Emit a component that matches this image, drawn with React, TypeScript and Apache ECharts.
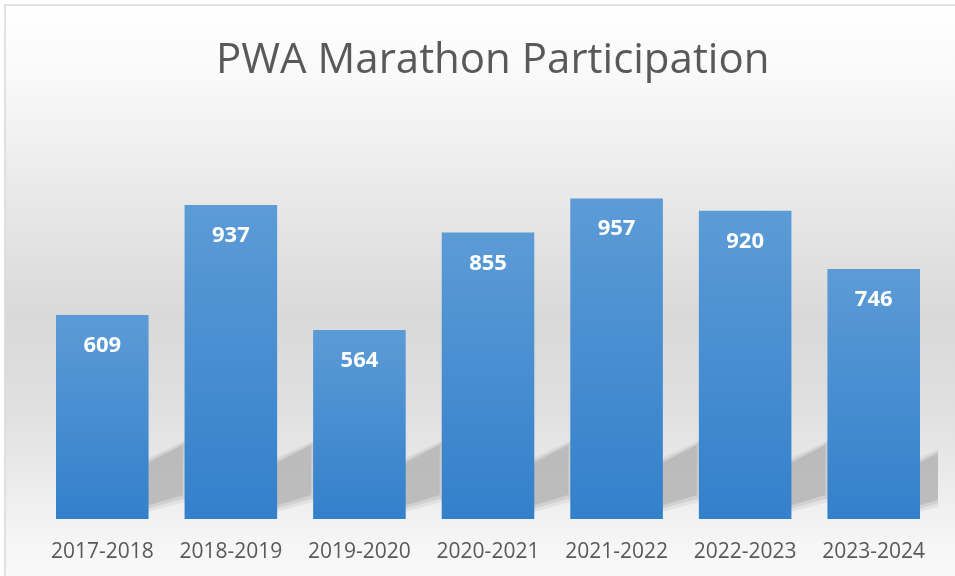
import React, { useEffect, useRef } from "react";
import * as echarts from "echarts";

const categories = ["2017-2018", "2018-2019", "2019-2020", "2020-2021", "2021-2022", "2022-2023", "2023-2024"];
const participants = [609, 937, 564, 855, 957, 920, 746];
const chartTitle = "PWA Marathon Participation";

export default function App() {
  const ref = useRef<HTMLDivElement>(null);
  useEffect(() => {
    if (!ref.current) return;
    const chart = echarts.init(ref.current, null, { renderer: "svg" });
    const font = "'Open Sans', 'Noto Sans', sans-serif";
    const shadowLayers = [
      { grow: 6, alpha: 0.2 },
      { grow: 3, alpha: 0.32 },
      { grow: 0, alpha: 0.6 },
    ];
    chart.setOption({
      animation: false,
      graphic: [
        {
          type: "rect",
          z: -10,
          silent: true,
          shape: { x: 5, y: 5, width: 980, height: 600 },
          style: {
            fill: new echarts.graphic.LinearGradient(0, 0, 0, 1, [
              { offset: 0, color: "#ffffff" },
              { offset: 0.12, color: "#f9f9f9" },
              { offset: 0.3, color: "#eaeaea" },
              { offset: 0.52, color: "#d9d9d9" },
              { offset: 0.68, color: "#e0e0e0" },
              { offset: 0.8, color: "#ececec" },
              { offset: 0.9, color: "#f6f6f6" },
              { offset: 1, color: "#fbfbfb" },
            ]),
            stroke: "#d9d9d9",
            lineWidth: 1.5,
          },
        },
      ],
      title: {
        text: chartTitle,
        left: 211,
        top: 30,
        textStyle: { fontFamily: font, fontSize: 42, fontWeight: "normal", color: "#595959" },
      },
      grid: { left: 38, right: 17, top: 184, bottom: 57, containLabel: false },
      xAxis: {
        type: "category",
        data: categories,
        axisLine: { show: false },
        axisTick: { show: false },
        axisLabel: { color: "#595959", fontFamily: font, fontSize: 21, margin: 20, interval: 0 },
      },
      yAxis: {
        type: "value",
        min: 0,
        max: 1000,
        show: false,
        splitLine: { show: false },
      },
      series: [
        {
          type: "custom",
          z: 1,
          clip: true,
          silent: true,
          data: participants.map((v, i) => [i, v]),
          renderItem: (params: any, api: any) => {
            const base = api.coord([api.value(0), 0]);
            const w = api.size([1, 0])[0] * 0.72;
            const x1 = base[0] + w / 2;
            const yb = base[1];
            return {
              type: "group",
              children: shadowLayers.map((l) => ({
                type: "polygon",
                shape: {
                  points: [
                    [x1 - 12, yb - 10 + l.grow],
                    [x1 + 34 + l.grow, yb - 24 + l.grow],
                    [x1 + 34 + l.grow, yb - 74 - l.grow],
                    [x1 - 12, yb - 50 - l.grow],
                  ],
                },
                style: { fill: `rgba(175,175,175,${l.alpha})` },
              })),
            };
          },
        },
        {
          type: "bar",
          z: 2,
          data: participants,
          barWidth: "72%",
          itemStyle: {
            color: new echarts.graphic.LinearGradient(0, 0, 0, 1, [
              { offset: 0, color: "#5c9bd6" },
              { offset: 1, color: "#3380cb" },
            ]),
          },
          label: {
            show: true,
            position: "insideTop",
            distance: 17,
            color: "#ffffff",
            fontFamily: font,
            fontWeight: "bold",
            fontSize: 22,
            lineHeight: 22,
          },
        },
      ],
    });
    return () => chart.dispose();
  }, []);
  return <div ref={ref} style={{ position: "fixed", left: 0, top: 0, width: 955, height: 576 }} />;
}
